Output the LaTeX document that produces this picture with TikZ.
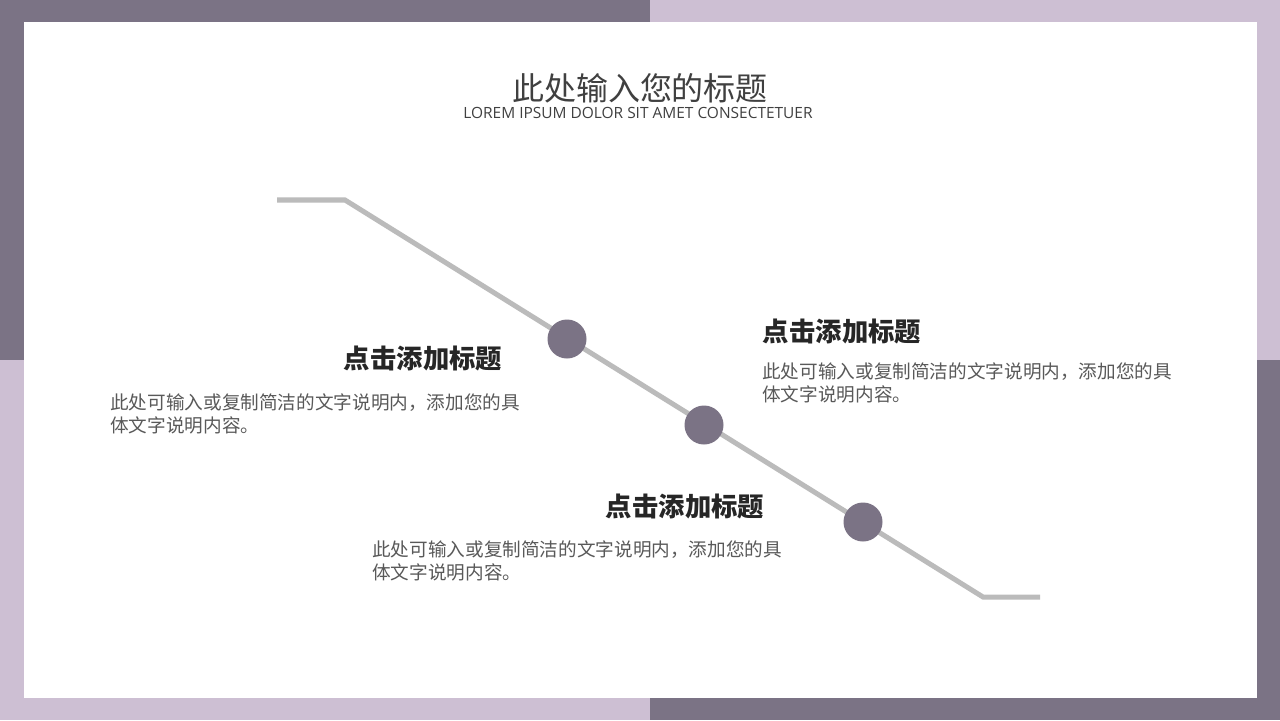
\documentclass[tikz,border=0pt]{standalone}
\usepackage{fontspec}
\setmainfont{Noto Sans CJK SC}
\newfontfamily\latinfont{Open Sans}
\usepackage{xcolor}
\definecolor{plumdark}{HTML}{7B7385}
\definecolor{plumlight}{HTML}{CDBFD3}
\definecolor{trackgray}{HTML}{BBBBBB}
\definecolor{titlegray}{HTML}{404040}
\definecolor{headgray}{HTML}{262626}
\definecolor{bodygray}{HTML}{595959}

\begin{document}
\begin{tikzpicture}[x=0.02cm, y=-0.02cm,
	every node/.style={inner sep=0pt},
	dot/.style={circle, fill=plumdark, minimum size=22.2pt},
	track/.style={trackgray, line width=2.85pt, line join=miter},
	headline/.style={headgray, font=\fontsize{15}{18}\selectfont\bfseries},
	bodytext/.style={bodygray, align=left, font=\fontsize{10.6}{13.4}\selectfont}]
				\useasboundingbox (0, 0) rectangle (1280, 720);
				
				%Frame
				\fill[plumdark] (0, 0) rectangle (650, 360);
				\fill[plumlight] (650, 0) rectangle (1280, 360);
				\fill[plumlight] (0, 360) rectangle (650, 720);
				\fill[plumdark] (650, 360) rectangle (1280, 720);
				\fill[white] (24, 22) rectangle (1257, 698);
				
				%Title
				\node[titlegray, font=\fontsize{18.2}{22}\selectfont] (title) at (640, 88) {此处输入您的标题};
				\node[titlegray, font=\latinfont\fontsize{8.8}{10}\selectfont] (subtitle) at (638, 113) {LOREM IPSUM DOLOR SIT AMET CONSECTETUER};
				
				%Track
				\coordinate (t0) at (277, 200);
				\coordinate (t1) at (345, 200);
				\coordinate (t2) at (983, 597);
				\coordinate (t3) at (1040, 597);
				\draw[track] (t0) -- (t1) -- (t2) -- (t3);
				\node[dot] (p1) at (567, 339) {};
				\node[dot] (p2) at (704, 425) {};
				\node[dot] (p3) at (863, 522) {};
				
				%Labels
				\node[headline] (head1) at (423, 358) {点击添加标题};
				\node[bodytext, anchor=north west] (body1) at (110, 393) {此处可输入或复制简洁的文字说明内，添加您的具\\体文字说明内容。};
				\node[headline] (head2) at (842, 331) {点击添加标题};
				\node[bodytext, anchor=north west] (body2) at (762, 362) {此处可输入或复制简洁的文字说明内，添加您的具\\体文字说明内容。};
				\node[headline] (head3) at (685, 506) {点击添加标题};
				\node[bodytext, anchor=north west] (body3) at (372, 540) {此处可输入或复制简洁的文字说明内，添加您的具\\体文字说明内容。};
			\end{tikzpicture}
\end{document}
